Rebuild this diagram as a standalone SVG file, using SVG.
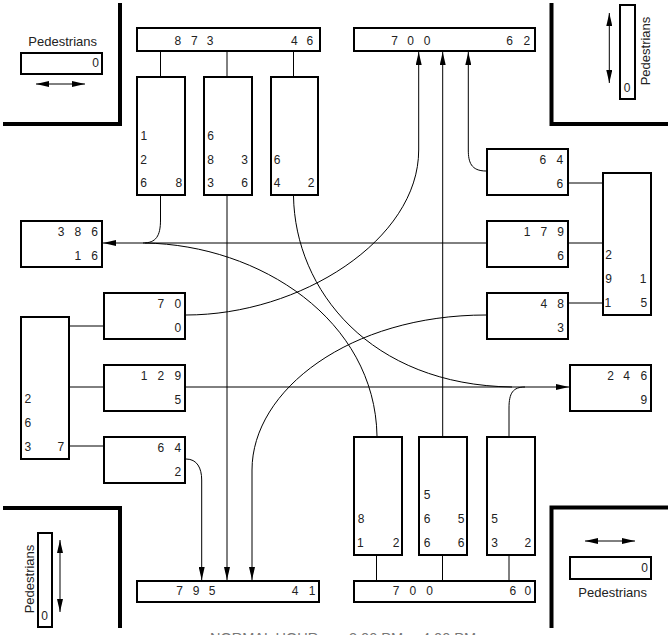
<svg xmlns="http://www.w3.org/2000/svg" width="668" height="635" viewBox="0 0 668 635">
<defs>
<marker id="ah" markerWidth="13" markerHeight="6" refX="13" refY="3" orient="auto-start-reverse" markerUnits="userSpaceOnUse"><path d="M0,0 L13,3 L0,6 z" fill="#000"/></marker>
<style>
.box{fill:#fff;stroke:#000;stroke-width:2}
.t{font-family:"Liberation Sans",Arial,sans-serif;font-size:12px;fill:#222}
.p{font-family:"Liberation Sans",Arial,sans-serif;font-size:13px;fill:#222}
.c{fill:none;stroke:#000;stroke-width:1}
.a{fill:none;stroke:#000;stroke-width:1;marker-end:url(#ah)}
.d{fill:none;stroke:#000;stroke-width:1;marker-start:url(#ah);marker-end:url(#ah)}
.w{fill:none;stroke:#000;stroke-width:4}
.cap{font-family:"Liberation Sans",Arial,sans-serif;font-size:14.5px;fill:#777}
</style>
</defs>
<rect width="668" height="635" fill="#fff"/>
<g id="walls">
<path class="w" d="M120,3 V124 H3"/>
<path class="w" d="M551.5,3 V124 H668"/>
<path class="w" d="M3,508 H120 V628"/>
<path class="w" d="M668,507.5 H551.5 V628"/>
</g>
<g id="connectors">
<line class="c" x1="160.5" y1="52" x2="160.5" y2="76"/>
<line class="c" x1="227" y1="52" x2="227" y2="76"/>
<line class="c" x1="293.5" y1="52" x2="293.5" y2="76"/>
<line class="c" x1="376.5" y1="556" x2="376.5" y2="580"/>
<line class="c" x1="442.5" y1="556" x2="442.5" y2="580"/>
<line class="c" x1="509" y1="556" x2="509" y2="580"/>
<line class="c" x1="569" y1="183" x2="602" y2="183"/>
<line class="c" x1="569" y1="243" x2="602" y2="243"/>
<line class="c" x1="569" y1="303" x2="602" y2="303"/>
<line class="c" x1="70" y1="326" x2="103" y2="326"/>
<line class="c" x1="70" y1="387" x2="103" y2="387"/>
<line class="c" x1="70" y1="446" x2="103" y2="446"/>
<path class="a" d="M486,243 H103"/>
<path class="c" d="M160.5,196 V220 C160.5,236 156,243 143,243"/>
<path class="a" d="M227,196 V580"/>
<path class="c" d="M293.5,196 C295,290 370,385 512,387"/>
<path class="c" d="M377,436 C375,320 260,245 145,243"/>
<path class="a" d="M442.7,436 V52"/>
<path class="c" d="M509,436 V408 C509,393 513,387 525,387"/>
<path class="a" d="M486,171 C471,171 468.3,162 468.3,150 V52"/>
<path class="a" d="M186,315 C300,315 418.7,240 418.7,150 V52"/>
<path class="a" d="M486,315 C350,315 252,390 252,470 V580"/>
<path class="a" d="M186,459 C197,459 201.7,468 201.7,480 V580"/>
<path class="a" d="M186,387 H569"/>
</g>
<g id="n-top-out-w">
<rect class="box" x="137" y="28" width="183" height="23"/>
<text class="t" x="174.5 191.1 206.8" y="45">873</text>
<text class="t" x="291 306.5" y="45">46</text>
</g>
<g id="n-top-out-e">
<rect class="box" x="354" y="28" width="181" height="23"/>
<text class="t" x="391.2 407.2 423.8" y="45">700</text>
<text class="t" x="506.2 523.6" y="45">62</text>
</g>
<g id="n-n-lane1">
<rect class="box" x="137" y="77" width="48" height="118"/>
<text class="t" x="140.4" y="140">1</text>
<text class="t" x="140.3" y="163.5">2</text>
<text class="t" x="140.3" y="187">6</text>
<text class="t" x="175.5" y="187">8</text>
</g>
<g id="n-n-lane2">
<rect class="box" x="204" y="77" width="48" height="118"/>
<text class="t" x="207.2" y="140">6</text>
<text class="t" x="207.2" y="163.5">8</text>
<text class="t" x="241.2" y="163.5">3</text>
<text class="t" x="207.2" y="187">3</text>
<text class="t" x="241.2" y="187">6</text>
</g>
<g id="n-n-lane3">
<rect class="box" x="271" y="77" width="47" height="118"/>
<text class="t" x="273.8" y="163.5">6</text>
<text class="t" x="273.8" y="187">4</text>
<text class="t" x="307.8" y="187">2</text>
</g>
<g id="n-e-64">
<rect class="box" x="487" y="149" width="81" height="46"/>
<text class="t" x="539.5 556.5" y="164">64</text>
<text class="t" x="556.5" y="188">6</text>
</g>
<g id="n-e-179">
<rect class="box" x="487" y="221" width="81" height="46"/>
<text class="t" x="523.8 540.5 557.2" y="236">179</text>
<text class="t" x="557.2" y="260">6</text>
</g>
<g id="n-e-48">
<rect class="box" x="487" y="293" width="81" height="46"/>
<text class="t" x="540.5 557.2" y="308">48</text>
<text class="t" x="557.2" y="332">3</text>
</g>
<g id="n-e-main">
<rect class="box" x="603" y="173" width="48" height="142"/>
<text class="t" x="605.2" y="259">2</text>
<text class="t" x="605.2" y="282.5">9</text>
<text class="t" x="639.7" y="282.5">1</text>
<text class="t" x="604.5" y="306.5">1</text>
<text class="t" x="640.5" y="306.5">5</text>
</g>
<g id="n-e-out">
<rect class="box" x="570" y="365" width="81" height="46"/>
<text class="t" x="607.3 623.3 640.5" y="380">246</text>
<text class="t" x="640.5" y="404">9</text>
</g>
<g id="n-w-out">
<rect class="box" x="21" y="221" width="81" height="46"/>
<text class="t" x="57.8 74.5 91.2" y="236">386</text>
<text class="t" x="74.5 91.2" y="260">16</text>
</g>
<g id="n-w-70">
<rect class="box" x="104" y="293" width="81" height="46"/>
<text class="t" x="157.5 174.5" y="308">70</text>
<text class="t" x="174.5" y="332">0</text>
</g>
<g id="n-w-129">
<rect class="box" x="104" y="365" width="81" height="46"/>
<text class="t" x="140.8 157.5 174.5" y="380">129</text>
<text class="t" x="174.5" y="404">5</text>
</g>
<g id="n-w-64">
<rect class="box" x="104" y="437" width="81" height="46"/>
<text class="t" x="157.5 174.5" y="452">64</text>
<text class="t" x="174.5" y="476">2</text>
</g>
<g id="n-w-main">
<rect class="box" x="21" y="317" width="48" height="142"/>
<text class="t" x="24.5" y="403.3">2</text>
<text class="t" x="24.5" y="427">6</text>
<text class="t" x="24.5" y="451">3</text>
<text class="t" x="57.5" y="451">7</text>
</g>
<g id="n-s-lane1">
<rect class="box" x="354" y="437" width="48" height="118"/>
<text class="t" x="357.8" y="523">8</text>
<text class="t" x="357" y="547">1</text>
<text class="t" x="392.8" y="547">2</text>
</g>
<g id="n-s-lane2">
<rect class="box" x="419" y="437" width="48" height="118"/>
<text class="t" x="423.8" y="499">5</text>
<text class="t" x="423.8" y="523">6</text>
<text class="t" x="457.8" y="523">5</text>
<text class="t" x="423.8" y="547">6</text>
<text class="t" x="457.8" y="547">6</text>
</g>
<g id="n-s-lane3">
<rect class="box" x="487" y="437" width="48" height="118"/>
<text class="t" x="491.2" y="523">5</text>
<text class="t" x="491.2" y="547">3</text>
<text class="t" x="524.5" y="547">2</text>
</g>
<g id="n-bot-out-w">
<rect class="box" x="137" y="581" width="182" height="21"/>
<text class="t" x="176.2 192.8 208.8" y="595">795</text>
<text class="t" x="291.7 308.7" y="595">41</text>
</g>
<g id="n-bot-out-e">
<rect class="box" x="354" y="581" width="181" height="21"/>
<text class="t" x="392.8 409.5 426.2" y="595">700</text>
<text class="t" x="509.5 524.5" y="595">60</text>
</g>
<g id="n-ped-nw">
<text class="p" x="62.7" y="46" text-anchor="middle">Pedestrians</text>
<rect class="box" x="21" y="53" width="81" height="21"/>
<text class="t" x="92.2" y="67">0</text>
<path class="d" d="M36,84 H85"/>
</g>
<g id="n-ped-ne">
<rect class="box" x="620" y="5" width="15" height="94"/>
<text class="t" x="623.8" y="91.7">0</text>
<text class="p" transform="translate(649.5,51) rotate(-90)" text-anchor="middle">Pedestrians</text>
<path class="d" d="M609.3,13 V83"/>
</g>
<g id="n-ped-sw">
<rect class="box" x="38" y="533" width="14" height="94"/>
<text class="t" x="41.2" y="619.5">0</text>
<text class="p" transform="translate(33.5,579) rotate(-90)" text-anchor="middle">Pedestrians</text>
<path class="d" d="M60,540 V612"/>
</g>
<g id="n-ped-se">
<path class="d" d="M585,541 H635"/>
<rect class="box" x="570" y="557" width="81" height="22"/>
<text class="t" x="641.2" y="571.7">0</text>
<text class="p" x="612.7" y="596.7" text-anchor="middle">Pedestrians</text>
</g>
<g id="caption">
<text class="cap" y="643"><tspan x="210">NORMAL HOUR -</tspan><tspan x="349">3:00 PM -</tspan><tspan x="422">4:00 PM</tspan></text>
</g>
</svg>
